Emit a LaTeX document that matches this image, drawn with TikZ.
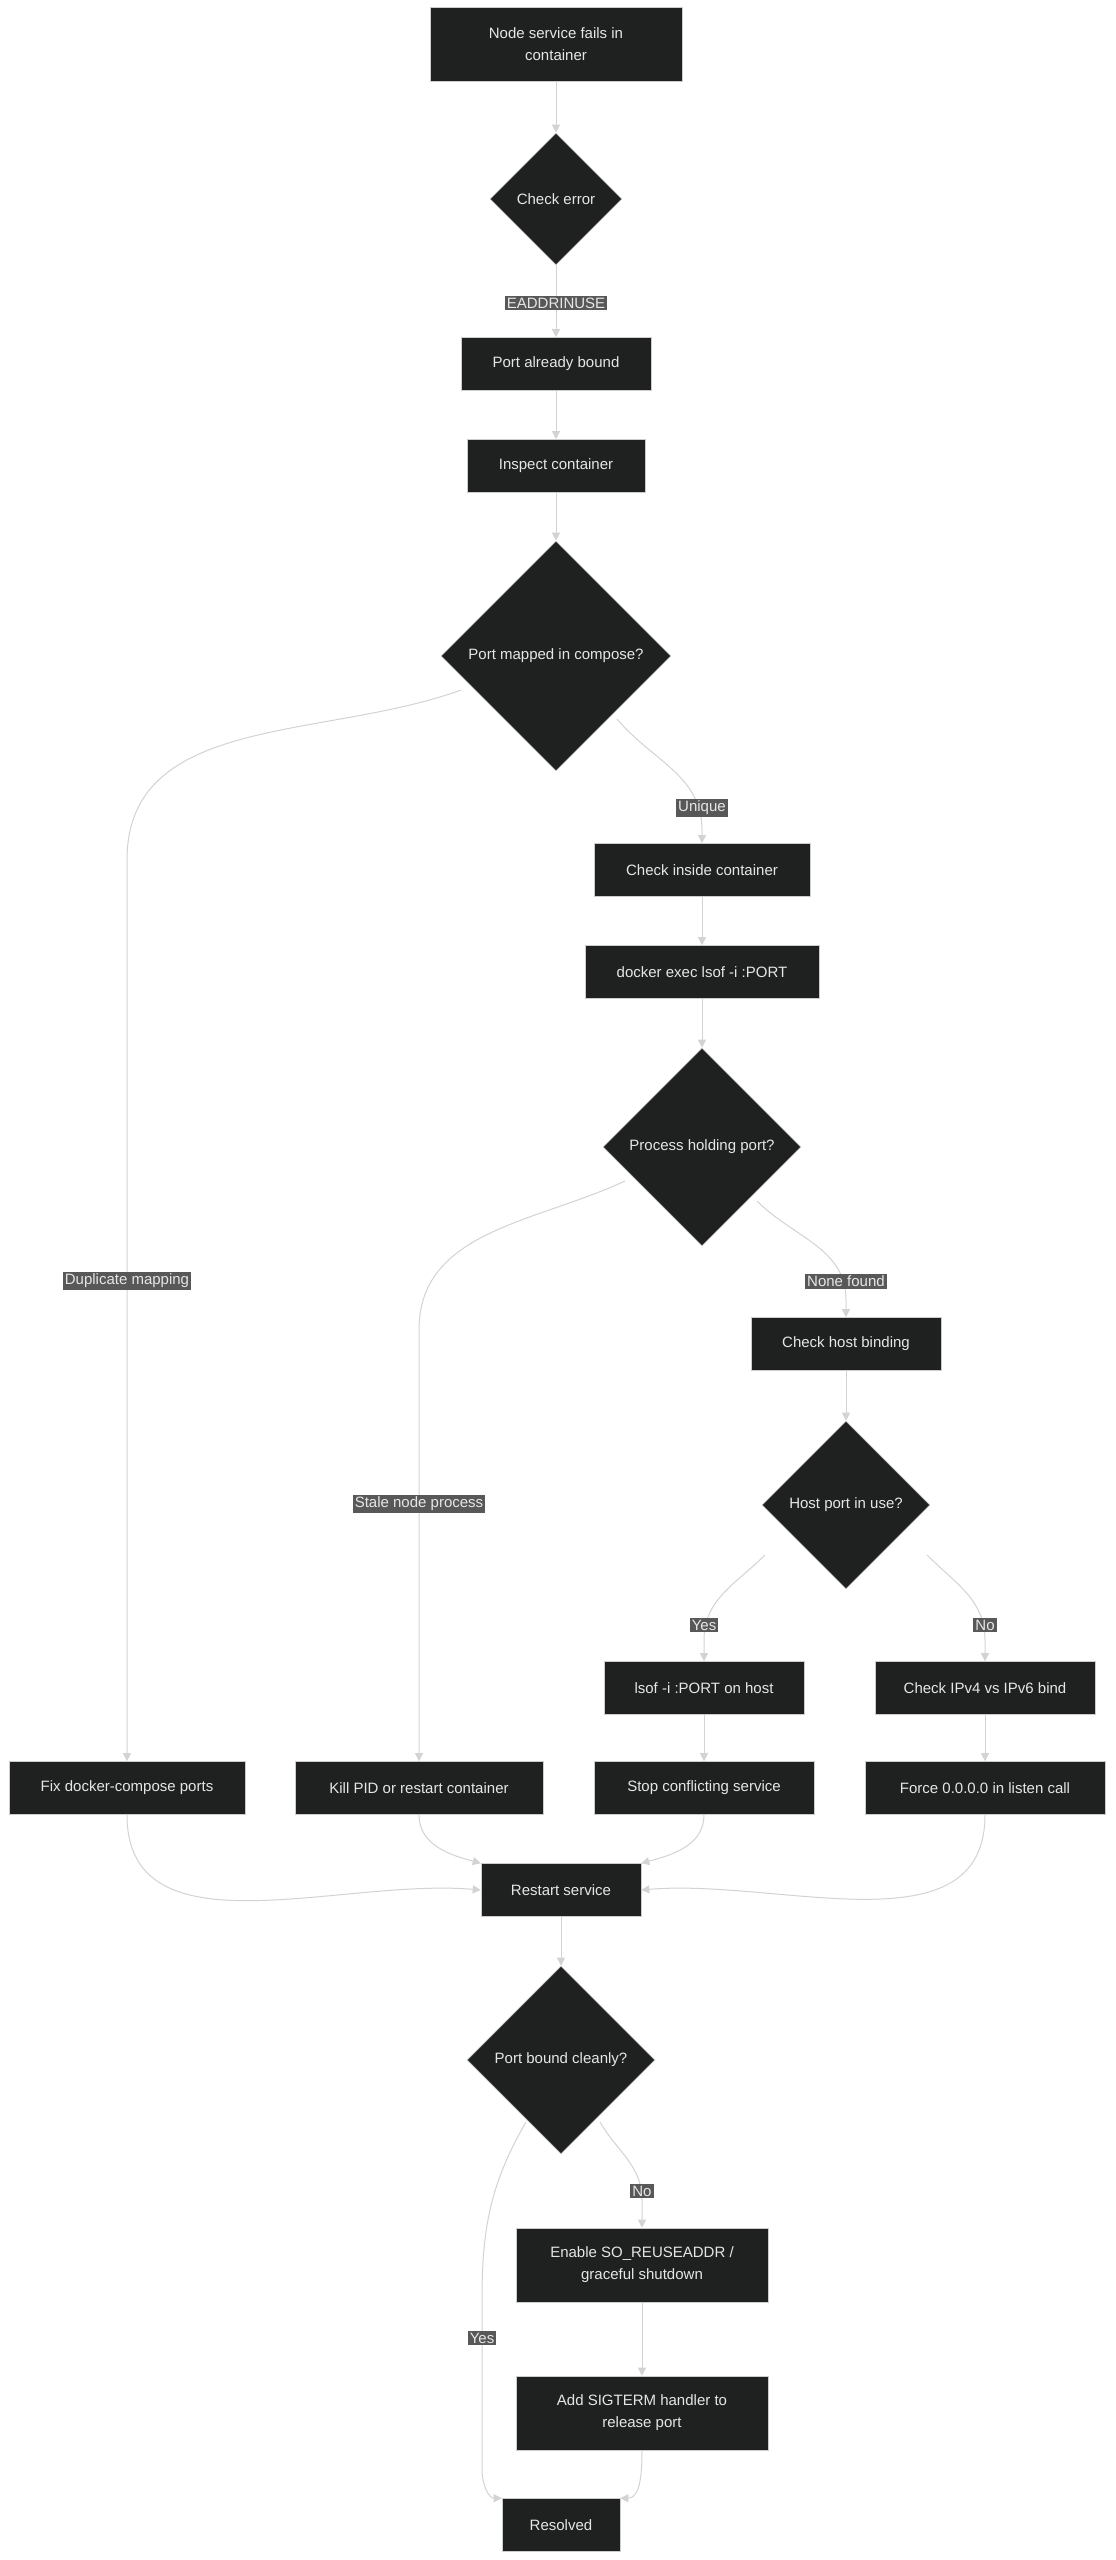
\documentclass[tikz,border=0pt]{standalone}
\usepackage{fontspec}
\setmainfont{Liberation Sans}
\usetikzlibrary{shapes.geometric,arrows.meta}
\definecolor{boxfill}{HTML}{1F2020}
\definecolor{boxline}{HTML}{CCCCCC}
\definecolor{linecol}{HTML}{D3D3D3}
\definecolor{lblfill}{HTML}{585858}
\definecolor{txt}{HTML}{E6E6E6}
\begin{document}
\begin{tikzpicture}[x=0.5pt,y=-0.5pt,
    box/.style={rectangle, fill=boxfill, draw=boxline, line width=0.3pt, text=txt, minimum height=26.5pt, align=center, font=\fontsize{7.5}{11}\selectfont, inner sep=0pt},
    dia/.style={diamond, fill=boxfill, draw=boxline, line width=0.3pt, text=txt, aspect=1, inner sep=0pt, font=\fontsize{7.5}{9}\selectfont},
    lbl/.style={fill=lblfill, text=txt, inner sep=1pt, font=\fontsize{7.5}{9}\selectfont},
    edge/.style={draw=linecol, line width=0.5pt, -{Triangle[length=4pt,width=4pt]}}]
    \useasboundingbox[fill=white] (0,0) rectangle (1115,2560);

    \node[box, minimum width=126pt, minimum height=37pt] (start) at (556,44) {Node service fails in\\container};
    \node[dia, minimum size=66pt] (ce) at (556,199) {Check error};
    \node[box, minimum width=95pt] (pab) at (556,364) {Port already bound};
    \node[box, minimum width=89pt] (ic) at (556,466) {Inspect container};
    \node[dia, minimum size=115pt] (pm) at (556,656) {Port mapped in compose?};
    \node[box, minimum width=108pt] (cic) at (702,870) {Check inside container};
    \node[box, minimum width=117pt] (de) at (702,972) {docker exec lsof -i :PORT};
    \node[dia, minimum size=99pt] (ph) at (702,1147) {Process holding port?};
    \node[box, minimum width=95pt] (chb) at (846,1344) {Check host binding};
    \node[dia, minimum size=84pt] (hp) at (846,1505) {Host port in use?};
    \node[box, minimum width=100pt] (lsof) at (704,1688) {lsof -i :PORT on host};
    \node[box, minimum width=110pt] (ipv) at (985,1688) {Check IPv4 vs IPv6 bind};
    \node[box, minimum width=118pt] (fix) at (127,1788) {Fix docker-compose ports};
    \node[box, minimum width=124pt] (kill) at (419,1788) {Kill PID or restart container};
    \node[box, minimum width=110pt] (stop) at (704,1788) {Stop conflicting service};
    \node[box, minimum width=120pt] (force) at (985,1788) {Force 0.0.0.0 in listen call};
    \node[box, minimum width=80pt] (rs) at (561,1890) {Restart service};
    \node[dia, minimum size=94pt] (pbc) at (561,2060) {Port bound cleanly?};
    \node[box, minimum width=126pt, minimum height=37pt] (en) at (642,2265) {Enable SO\_REUSEADDR /\\graceful shutdown};
    \node[box, minimum width=126pt, minimum height=37pt] (sig) at (642,2413) {Add SIGTERM handler to\\release port};
    \node[box, minimum width=59pt] (res) at (561,2525) {Resolved};

    \draw[edge] (start) -- (ce);
    \draw[edge] (ce) -- (pab);
    \draw[edge] (pab) -- (ic);
    \draw[edge] (ic) -- (pm);
    \draw[edge] (pm.south east) ++(-40,0) coordinate (pm1) (617,719) to[out=-50,in=90] (702,830) -- (cic);
    \draw[edge] (461,690) to[out=200,in=90] (127,860) -- (fix);
    \draw[edge] (cic) -- (de);
    \draw[edge] (de) -- (ph);
    \draw[edge] (625,1181) to[out=205,in=90] (419,1330) -- (kill);
    \draw[edge] (757,1201) to[out=-45,in=90] (846,1300) -- (chb);
    \draw[edge] (chb) -- (hp);
    \draw[edge] (765,1555) to[out=-135,in=90] (704,1640) -- (lsof);
    \draw[edge] (927,1555) to[out=-45,in=90] (985,1640) -- (ipv);
    \draw[edge] (lsof) -- (stop);
    \draw[edge] (ipv) -- (force);
    \draw[edge] (fix) to[out=-90,in=175] (rs.west);
    \draw[edge] (kill) to[out=-90,in=165] (rs.north west);
    \draw[edge] (stop) to[out=-90,in=15] (rs.north east);
    \draw[edge] (force) to[out=-90,in=5] (rs.east);
    \draw[edge] (rs) -- (pbc);
    \draw[edge] (600,2122) to[out=-60,in=90] (642,2200) -- (en);
    \draw[edge] (526,2122) to[out=-120,in=90] (482,2300) -- (482,2470) to[out=-90,in=180] (res.north west);
    \draw[edge] (en) -- (sig);
    \draw[edge] (sig) to[out=-90,in=0] (res.north east);

    \node[lbl] (l1) at (556,303) {EADDRINUSE};
    \node[lbl] (l2) at (702,808) {Unique};
    \node[lbl] (l3) at (127,1281) {Duplicate mapping};
    \node[lbl] (l4) at (846,1281) {None found};
    \node[lbl] (l5) at (419,1504) {Stale node process};
    \node[lbl] (l6) at (704,1625) {Yes};
    \node[lbl] (l7) at (985,1625) {No};
    \node[lbl] (l8) at (642,2191) {No};
    \node[lbl] (l9) at (482,2338) {Yes};
\end{tikzpicture}
\end{document}
